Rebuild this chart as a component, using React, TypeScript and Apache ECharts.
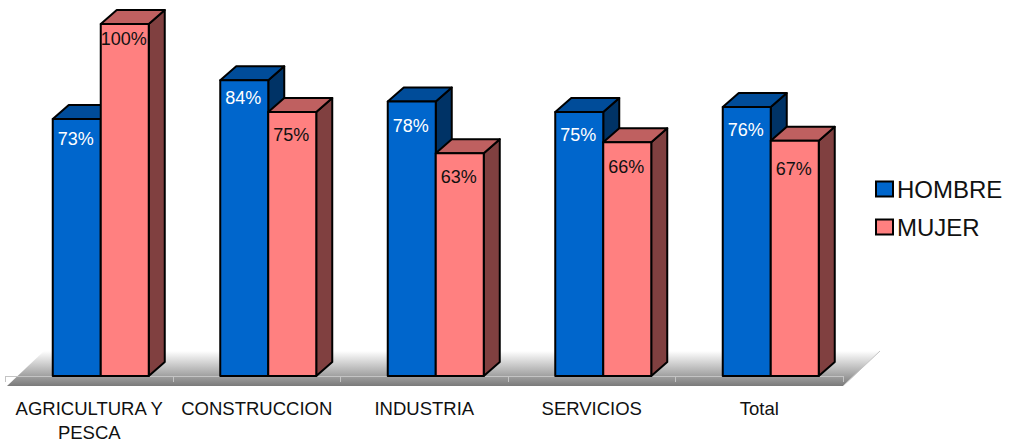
import React, { useEffect, useRef } from "react";
import * as echarts from "echarts";

const categories = ["AGRICULTURA Y\nPESCA", "CONSTRUCCION", "INDUSTRIA", "SERVICIOS", "Total"];
const hombre = [73, 84, 78, 75, 76.4];
const mujer = [100, 75, 63.3, 66.4, 66.8];
const hombreLabelDrop = [20, 18, 25, 23, 23];
const mujerLabelDrop = [15, 23, 24, 25, 28];

const FONT = '"Liberation Sans", Arial, sans-serif';
const BAR_W = 48;
const DEPTH_X = 16;
const DEPTH_Y = 14;
const SHIFT = 11.5;

function barRenderer(colors: { front: string; top: string; side: string; text: string }, dir: number, drops: number[]) {
  return (params: any, api: any) => {
    const idx = api.value(0);
    const val = api.value(1);
    const [cx, yTop] = api.coord([idx, val]);
    const [, yBase] = api.coord([idx, 0]);
    const x0 = cx + SHIFT + (dir < 0 ? -BAR_W : 0);
    const x1 = x0 + BAR_W;
    const stroke = { stroke: "#000", lineWidth: 2, lineJoin: "round" };
    return {
      type: "group",
      children: [
        {
          type: "polygon",
          shape: { points: [[x1, yTop], [x1 + DEPTH_X, yTop - DEPTH_Y], [x1 + DEPTH_X, yBase - DEPTH_Y], [x1, yBase]] },
          style: { fill: colors.side, ...stroke },
        },
        {
          type: "polygon",
          shape: { points: [[x0, yTop], [x0 + DEPTH_X, yTop - DEPTH_Y], [x1 + DEPTH_X, yTop - DEPTH_Y], [x1, yTop]] },
          style: { fill: colors.top, ...stroke },
        },
        {
          type: "polygon",
          shape: { points: [[x0, yTop], [x1, yTop], [x1, yBase], [x0, yBase]] },
          style: { fill: colors.front, ...stroke },
        },
        {
          type: "text",
          style: {
            text: `${Math.round(val)}%`,
            x: (x0 + x1) / 2 - 1,
            y: yTop + drops[idx],
            fill: colors.text,
            font: `18px ${FONT}`,
            align: "center",
            verticalAlign: "middle",
          },
        },
      ],
    };
  };
}

export default function App() {
  const ref = useRef<HTMLDivElement>(null);
  useEffect(() => {
    document.body.style.margin = "0";
    const chart = echarts.init(ref.current!, undefined, { renderer: "svg" });
    chart.setOption({
      animation: false,
      backgroundColor: "#fff",
      textStyle: { fontFamily: FONT },
      grid: { left: 5.5, width: 837.5, top: 24, height: 352 },
      xAxis: {
        type: "category",
        data: categories,
        offset: 11,
        axisLine: { lineStyle: { color: "#c4c4c4", width: 1 } },
        axisTick: { show: true, length: 6, lineStyle: { color: "#c4c4c4", width: 1 } },
        axisLabel: { interval: 0, color: "#111", fontSize: 18.5, lineHeight: 24, margin: 9, fontFamily: FONT },
        splitLine: { show: false },
      },
      yAxis: { type: "value", min: 0, max: 100, interval: 20, show: false, splitLine: { show: false } },
      legend: {
        left: 870,
        top: 172,
        orient: "vertical",
        itemWidth: 17,
        itemHeight: 15,
        itemGap: 14,
        icon: "rect",
        textStyle: { fontSize: 24, color: "#111", fontFamily: FONT, padding: [0, 0, 0, -1] },
        data: [
          { name: "HOMBRE", itemStyle: { color: "#0066CC", borderColor: "#000", borderWidth: 2 } },
          { name: "MUJER", itemStyle: { color: "#FF8080", borderColor: "#000", borderWidth: 2 } },
        ],
      },
      graphic: [
        {
          type: "polygon",
          z: -1,
          shape: { points: [[7, 386], [44, 351], [880, 351], [843, 386]] },
          style: {
            fill: new echarts.graphic.LinearGradient(0, 0, 0, 1, [
              { offset: 0, color: "#ffffff" },
              { offset: 1, color: "#7a7a7a" },
            ]),
          },
        },
        {
          type: "line",
          z: -1,
          shape: { x1: 843, y1: 386, x2: 880, y2: 351 },
          style: { stroke: "#c4c4c4", lineWidth: 1 },
        },
      ],
      series: [
        {
          name: "HOMBRE",
          type: "custom",
          itemStyle: { color: "#0066CC" },
          clip: false,
          renderItem: barRenderer({ front: "#0066CC", top: "#004C99", side: "#003366", text: "#fff" }, -1, hombreLabelDrop),
          data: hombre.map((v, i) => [i, v]),
        },
        {
          name: "MUJER",
          type: "custom",
          itemStyle: { color: "#FF8080" },
          clip: false,
          renderItem: barRenderer({ front: "#FF8080", top: "#BF6060", side: "#804040", text: "#111" }, 1, mujerLabelDrop),
          data: mujer.map((v, i) => [i, v]),
        },
      ],
    });
    return () => chart.dispose();
  }, []);
  return <div ref={ref} style={{ width: 1013, height: 444 }} />;
}
